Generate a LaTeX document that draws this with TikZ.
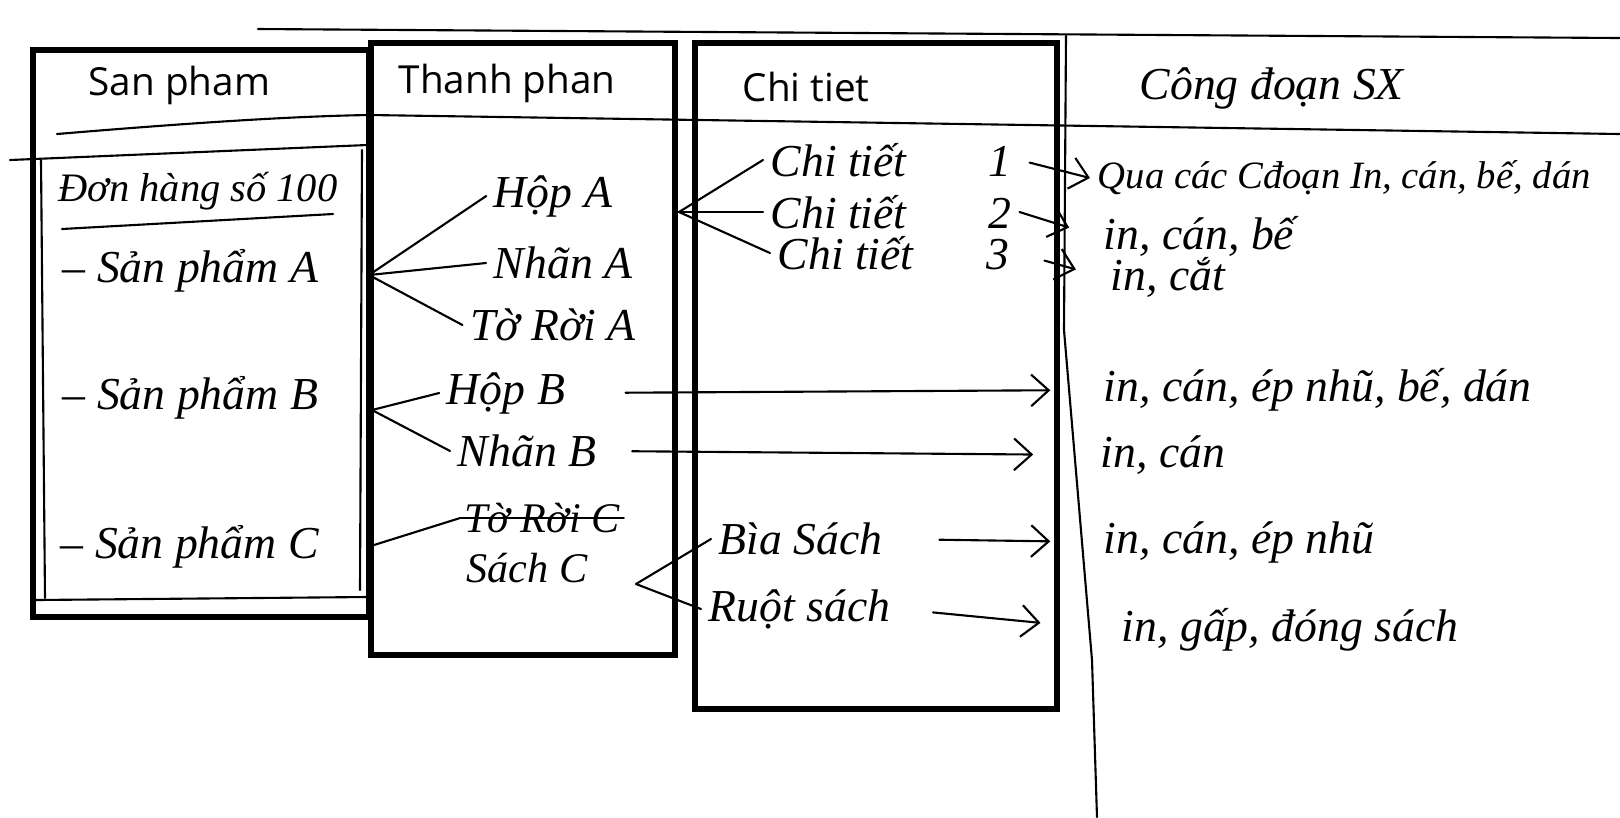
\documentclass[tikz,border=0pt]{standalone}
\usepackage{fontspec}
\setmainfont{Liberation Serif}
\newfontfamily\headfont{Open Sans}
\usetikzlibrary{arrows.meta}

\begin{document}
\begin{tikzpicture}[x=0.01cm, y=-0.01cm,
    frame/.style={line width=1.6pt},
    pen/.style={line width=0.6pt, line cap=round},
    head/.style={font=\headfont\fontsize{11}{13}\selectfont, anchor=west, inner sep=0pt},
    hand/.style={font=\itshape\fontsize{13}{15}\selectfont, inner sep=2pt},
    arr/.style={pen, -{Straight Barb[length=5pt, width=9pt]}}]

    \useasboundingbox (0,0) rectangle (1620,817);

    % Column frames
    \draw[frame] (33,50) rectangle (369,617);
    \draw[frame] (371,43) rectangle (675,655);
    \draw[frame] (695,43) rectangle (1057,709);

    % Pen lines across the sheet
    \draw[pen] (258,29) -- (1620,38);
    \draw[pen] (57,134) .. controls (200,122) and (300,116) .. (370,115) -- (700,120) -- (1620,134);
    \draw[pen] (10,160) -- (367,145);
    \draw[pen] (36,600) -- (367,597);
    \draw[pen] (41,160) -- (45,598);
    \draw[pen] (362,150) -- (360,590);
    \draw[pen] (1066,36) -- (1064,330) -- (1092,660) -- (1097,817);

    % Headers
    \node[head] (hSP) at (88,85)  {San pham};
    \node[head] (hTP) at (398,83) {Thanh phan};
    \node[head] (hCT) at (742,87) {Chi tiet};
    \node[hand, anchor=west] (hCD) at (1132,88) {Công đoạn SX};

    % Order and products
    \node[hand, font=\itshape\fontsize{11.5}{14}\selectfont] (don) at (198,191) {Đơn hàng số 100};
    \draw[pen] (62,229) -- (333,214);
    \node[hand, anchor=west] (spA) at (55,271) {-- Sản phẩm A};
    \node[hand, anchor=west] (spB) at (55,398) {-- Sản phẩm B};
    \node[hand, anchor=west] (spC) at (53,547) {-- Sản phẩm C};

    % Components
    \node[hand] (hopA)  at (553,196) {Hộp A};
    \node[hand] (nhanA) at (563,263) {Nhãn A};
    \node[hand] (toA)   at (553,325) {Tờ Rời A};
    \node[hand] (hopB)  at (506,393) {Hộp B};
    \node[hand] (nhanB) at (527,451) {Nhãn B};
    \node[hand, font=\itshape\fontsize{12}{14}\selectfont, inner sep=1pt] (trC) at (542,518) {Tờ Rời C};
    \draw[pen] (trC.west) -- (trC.east);
    \node[hand, font=\itshape\fontsize{12}{14}\selectfont, inner sep=1pt] (sachC) at (527,568) {Sách C};

    % Details
    \node[hand, anchor=west] (ct1)  at (763,160) {Chi tiết\hspace{1.8em}1};
    \node[hand, anchor=west] (ct2)  at (763,212) {Chi tiết\hspace{1.8em}2};
    \node[hand, anchor=west] (ct3)  at (770,253) {Chi tiết\hspace{1.6em}3};
    \node[hand, anchor=west] (bia)  at (711,539) {Bìa Sách};
    \node[hand, anchor=west] (ruot) at (701,609) {Ruột sách};

    % Production steps
    \node[hand, anchor=west, font=\itshape\fontsize{11}{13}\selectfont] (s1) at (1090,178) {Qua các Cđoạn In, cán, bế, dán};
    \node[hand, anchor=west] (s2) at (1096,236) {in, cán, bế};
    \node[hand, anchor=west] (s3) at (1103,277) {in, cắt};
    \node[hand, anchor=west] (s4) at (1096,390) {in, cán, ép nhũ, bế, dán};
    \node[hand, anchor=west] (s5) at (1093,455) {in, cán};
    \node[hand, anchor=west] (s6) at (1096,542) {in, cán, ép nhũ};
    \node[hand, anchor=west] (s7) at (1114,630) {in, gấp, đóng sách};

    % Product to component
    \coordinate (jA) at (369,275);
    \coordinate (jB) at (372,410);
    \coordinate (jC) at (374,545);
    \draw[pen] (jA) -- (hopA.west);
    \draw[pen] (jA) -- (nhanA.west);
    \draw[pen] (jA) -- (toA.west);
    \draw[pen] (jB) -- (hopB.west);
    \draw[pen] (jB) -- (nhanB.west);
    \draw[pen] (jC) -- (trC.west);

    % Component to detail
    \coordinate (jH) at (679,212);
    \coordinate (jS) at (636,584);
    \draw[pen] (jH) -- (ct1.west);
    \draw[pen] (jH) -- (ct2.west);
    \draw[pen] (jH) -- (ct3.west);
    \draw[pen] (jS) -- (bia.west);
    \draw[pen] (jS) -- (ruot.west);

    % Steps
    \draw[arr, shorten <=3pt] (ct1.east) -- (s1.west);
    \draw[arr, shorten >=8pt] (ct2.east) -- (s2.west);
    \draw[arr, shorten <=8pt, shorten >=8pt] (ct3.east) -- (s3.west);
    \draw[arr, shorten <=15pt, shorten >=13pt] (hopB.east) -- (s4.west);
    \draw[arr, shorten <=8pt, shorten >=17pt] (nhanB.east) -- (s5.west);
    \draw[arr, shorten <=14pt, shorten >=13pt] (bia.east) -- (s6.west);
    \draw[arr, shorten <=10pt, shorten >=21pt] (ruot.east) -- (s7.west);
\end{tikzpicture}
\end{document}
